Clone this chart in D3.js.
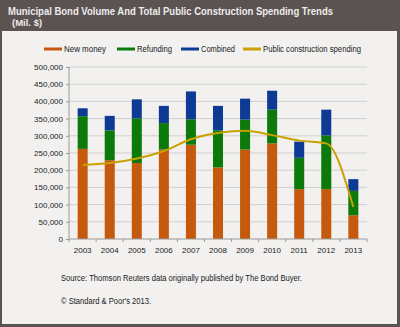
<!DOCTYPE html>
<head>
    <meta charset="utf-8">
    <script src="https://d3js.org/d3.v7.min.js"></script>
    <style>
      body { margin: 0; }
      text { font-family: "Liberation Sans", Arial, sans-serif; fill: #1a1a1a; }
      .title { font-weight: bold; fill: #ececec; }
      .tick text { font-size: 8px; fill: #222; }
    </style>
</head>
<body>
    <script>
        // values in Mil. $
        var years = ["2003","2004","2005","2006","2007","2008","2009","2010","2011","2012","2013"]
        var newMoney  = [262000,229000,221000,260000,274000,208000,260000,278000,145000,145000,69000]
        var refunding = [95000,87000,130000,77000,74000,108000,87000,98000,91000,156000,71000]
        var combined  = [23000,42000,55000,50000,81000,71000,61000,55000,47000,75000,34000]
        var spending  = [215000,221000,234000,256000,290000,308000,315000,302000,286000,278000,93000]
        var yTicks = [0,50000,100000,150000,200000,250000,300000,350000,400000,450000,500000]

        var seriesNames = ["New money","Refunding","Combined"]
        var seriesColors = ["#c55a0e","#0b7a0b","#0d3a94"]
        var lineColor = "#c9a100"

        var svg_w = 400, svg_h = 327
        var svg = d3.select("body").append("svg")
          .attr("width", svg_w)
          .attr("height", svg_h)

        // frame + panel
        svg.append("rect").attr("width", svg_w).attr("height", svg_h).attr("fill", "#5b5351")
        svg.append("rect").attr("x", 2).attr("y", 31).attr("width", 395).attr("height", 293).attr("fill", "#f2f1ef")

        svg.append("text").classed("title", true)
          .attr("x", 8).attr("y", 15).attr("font-size", "10.5px")
          .attr("textLength", 325).attr("lengthAdjust", "spacingAndGlyphs")
          .text("Municipal Bond Volume And Total Public Construction  Spending Trends")
        svg.append("text").classed("title", true)
          .attr("x", 12).attr("y", 26).attr("font-size", "9.5px")
          .text("(Mil. $)")

        var plot = {left: 69, right: 367, top: 67, bottom: 239}

        var x = d3.scaleBand().domain(years).range([plot.left, plot.right]).paddingInner(0.63).paddingOuter(0.32)
        var y = d3.scaleLinear().domain([0, 500000]).range([plot.bottom, plot.top])

        // gridlines
        svg.append("g").selectAll("line").data(yTicks.slice(1)).enter().append("line")
          .attr("x1", plot.left).attr("x2", plot.right)
          .attr("y1", function(d){return y(d)}).attr("y2", function(d){return y(d)})
          .attr("stroke", "#cfcfcf").attr("stroke-width", 1)

        // y axis
        var yAxis = svg.append("g")
          .attr("transform", "translate("+plot.left+",0)")
          .call(d3.axisLeft(y).tickValues(yTicks).tickSize(3).tickFormat(d3.format(",")))
        yAxis.selectAll("line,path").attr("stroke", "#9a9a9a")
        yAxis.select(".domain").attr("d", "M0,"+plot.bottom+"V"+plot.top)
        yAxis.selectAll("text").attr("x", -6)

        // stacked bars
        var table = years.map(function(yr, i){
          return {year: yr, "New money": newMoney[i], "Refunding": refunding[i], "Combined": combined[i]}
        })
        var stack = d3.stack().keys(seriesNames)(table)
        svg.append("g").selectAll("g").data(stack).enter().append("g")
          .attr("fill", function(d, i){return seriesColors[i]})
          .selectAll("rect").data(function(d){return d}).enter().append("rect")
          .attr("x", function(d){return x(d.data.year)})
          .attr("width", x.bandwidth())
          .attr("y", function(d){return y(d[1])})
          .attr("height", function(d){return y(d[0]) - y(d[1])})

        // x axis
        var xAxis = svg.append("g").attr("transform", "translate(0,"+plot.bottom+")")
        xAxis.append("line").attr("x1", plot.left).attr("x2", plot.right).attr("stroke", "#9a9a9a")
        var step = x.step()
        xAxis.selectAll(".xt").data(d3.range(years.length + 1)).enter().append("line")
          .attr("x1", function(i){return plot.left + (plot.right - plot.left) * i / years.length})
          .attr("x2", function(i){return plot.left + (plot.right - plot.left) * i / years.length})
          .attr("y1", 0).attr("y2", 3).attr("stroke", "#9a9a9a")
        xAxis.selectAll(".xl").data(years).enter().append("text")
          .attr("x", function(d){return x(d) + x.bandwidth()/2})
          .attr("y", 14).attr("text-anchor", "middle").attr("font-size", "8px").attr("fill", "#222")
          .text(function(d){return d})

        // line
        var line = d3.line()
          .x(function(d, i){return x(years[i]) + x.bandwidth()/2})
          .y(function(d){return y(d)})
          .curve(d3.curveMonotoneX)
        svg.append("path").datum(spending)
          .attr("d", line).attr("fill", "none")
          .attr("stroke", lineColor).attr("stroke-width", 2)

        // legend
        var legendItems = [
          {name: "New money", color: seriesColors[0], x: 44, w: 42},
          {name: "Refunding", color: seriesColors[1], x: 117, w: 35},
          {name: "Combined", color: seriesColors[2], x: 181, w: 34},
          {name: "Public construction spending", color: lineColor, x: 243, w: 98}
        ]
        var legend = svg.append("g")
        legendItems.forEach(function(d){
          legend.append("line").attr("x1", d.x).attr("x2", d.x + 18).attr("y1", 49).attr("y2", 49)
            .attr("stroke", d.color).attr("stroke-width", 3)
          legend.append("text").attr("x", d.x + 20).attr("y", 52).attr("font-size", "8.5px")
            .attr("textLength", d.w).attr("lengthAdjust", "spacingAndGlyphs")
            .text(d.name)
        })

        // notes
        svg.append("text").attr("x", 61).attr("y", 281).attr("font-size", "8.5px")
          .attr("textLength", 241).attr("lengthAdjust", "spacingAndGlyphs")
          .text("Source: Thomson Reuters data originally published by The Bond Buyer.")
        svg.append("text").attr("x", 61).attr("y", 304).attr("font-size", "8.5px")
          .attr("textLength", 90).attr("lengthAdjust", "spacingAndGlyphs")
          .text("© Standard & Poor's 2013.")
    </script>
</body>
